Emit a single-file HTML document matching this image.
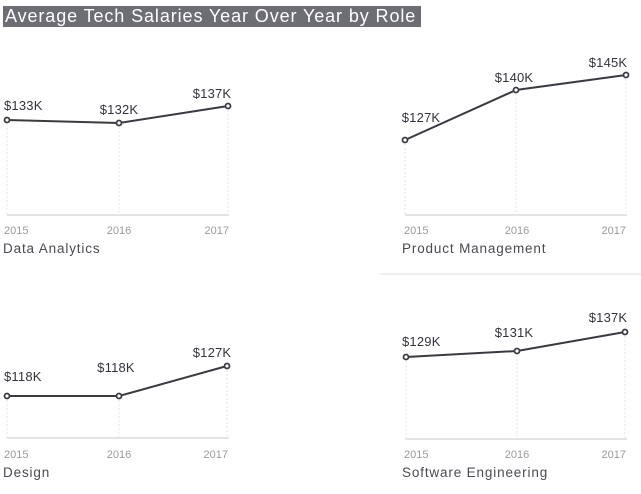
<!DOCTYPE html>
<html><head><style>
html,body{margin:0;padding:0;background:#fff;}
body{width:641px;height:494px;overflow:hidden;position:relative;font-family:"Liberation Sans",sans-serif;}
.title{position:absolute;left:3px;top:6px;width:418px;height:21px;background:#6d6d74;color:#fff;font-size:18px;line-height:21px;padding-left:2px;box-sizing:border-box;white-space:nowrap;letter-spacing:0.9px;}
svg{position:absolute;left:0;top:0;}
</style></head><body>
<div class="title">Average Tech Salaries Year Over Year by Role</div>
<svg width="641" height="494" font-family="Liberation Sans, sans-serif">
<line x1="380" y1="274" x2="641" y2="274" stroke="#eee" stroke-width="2"/>
<g stroke="#e6e6e6" stroke-dasharray="2,2" stroke-width="1">
<line x1="7" y1="120" x2="7" y2="215"/><line x1="119" y1="123" x2="119" y2="215"/><line x1="228" y1="106" x2="228" y2="215"/>
<line x1="405" y1="140" x2="405" y2="215"/><line x1="516" y1="90" x2="516" y2="215"/><line x1="626" y1="75" x2="626" y2="215"/>
<line x1="7" y1="396" x2="7" y2="438"/><line x1="119" y1="396" x2="119" y2="438"/><line x1="227" y1="366" x2="227" y2="438"/>
<line x1="406" y1="357" x2="406" y2="439"/><line x1="517" y1="351" x2="517" y2="439"/><line x1="625" y1="332" x2="625" y2="439"/>
</g>
<g stroke="#e4e4e4" stroke-width="2">
<line x1="7" y1="215" x2="229" y2="215"/><line x1="405" y1="215" x2="627" y2="215"/>
<line x1="7" y1="438" x2="229" y2="438"/><line x1="405" y1="439" x2="627" y2="439"/>
</g>
<g fill="none" stroke="#3a3a44" stroke-width="2">
<polyline points="7,120 119,123 228,106"/>
<polyline points="405,140 516,90 626,75"/>
<polyline points="7,396 119,396 227,366"/>
<polyline points="406,357 517,351 625,332"/>
</g>
<g fill="#fff" stroke="#3a3a44" stroke-width="1.8">
<circle cx="7" cy="120" r="2.5"/><circle cx="119" cy="123" r="2.5"/><circle cx="228" cy="106" r="2.5"/>
<circle cx="405" cy="140" r="2.5"/><circle cx="516" cy="90" r="2.5"/><circle cx="626" cy="75" r="2.5"/>
<circle cx="7" cy="396" r="2.5"/><circle cx="119" cy="396" r="2.5"/><circle cx="227" cy="366" r="2.5"/>
<circle cx="406" cy="357" r="2.5"/><circle cx="517" cy="351" r="2.5"/><circle cx="625" cy="332" r="2.5"/>
</g>
<g fill="#33333d" font-size="13" letter-spacing="0.2">
<text x="4" y="110">$133K</text><text x="119" y="114" text-anchor="middle">$132K</text><text x="212" y="98" text-anchor="middle">$137K</text>
<text x="421" y="122" text-anchor="middle">$127K</text><text x="514" y="82" text-anchor="middle">$140K</text><text x="608" y="67" text-anchor="middle">$145K</text>
<text x="4" y="381">$118K</text><text x="116" y="372" text-anchor="middle">$118K</text><text x="212" y="357" text-anchor="middle">$127K</text>
<text x="402" y="346">$129K</text><text x="514" y="337" text-anchor="middle">$131K</text><text x="608" y="322" text-anchor="middle">$137K</text>
</g>
<g fill="#9a9a9a" font-size="11">
<text x="4" y="234">2015</text><text x="119" y="234" text-anchor="middle">2016</text><text x="229" y="234" text-anchor="end">2017</text>
<text x="404" y="234">2015</text><text x="517" y="234" text-anchor="middle">2016</text><text x="626" y="234" text-anchor="end">2017</text>
<text x="4" y="458">2015</text><text x="119" y="458" text-anchor="middle">2016</text><text x="228" y="458" text-anchor="end">2017</text>
<text x="404" y="458">2015</text><text x="517" y="458" text-anchor="middle">2016</text><text x="626" y="458" text-anchor="end">2017</text>
</g>
<g fill="#4a4a52" font-size="13.5" letter-spacing="0.85">
<text x="3" y="253">Data Analytics</text><text x="402" y="253">Product Management</text>
<text x="3" y="477">Design</text><text x="402" y="477">Software Engineering</text>
</g>
</svg>
</body></html>
